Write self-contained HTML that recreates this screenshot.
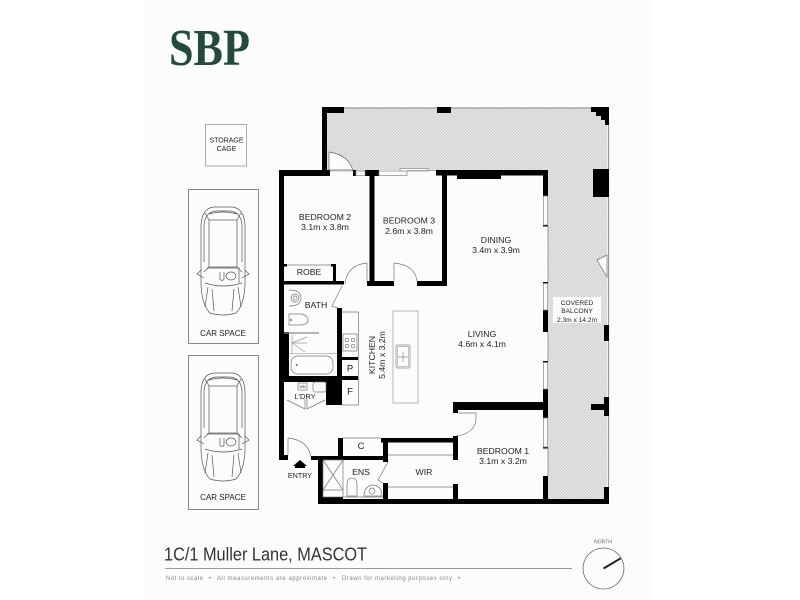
<!DOCTYPE html>
<html lang="en">
<head>
<meta charset="utf-8">
<title>1C/1 Muller Lane, MASCOT</title>
<style>
html,body{margin:0;padding:0;background:#fff}
svg{display:block}
text{font-family:"Liberation Sans",sans-serif;fill:#222;text-anchor:middle}
</style>
</head>
<body>
<svg width="800" height="600" viewBox="0 0 800 600" xmlns="http://www.w3.org/2000/svg">
<defs>
<pattern id="h" width="3" height="3" patternUnits="userSpaceOnUse">
<rect width="3" height="3" fill="#e9e9e7"/>
<rect x="0" y="0" width="1.5" height="1.5" fill="#cfcfcf"/>
<rect x="1.5" y="1.5" width="1.5" height="1.5" fill="#cfcfcf"/>
</pattern>
<g id="car" fill="none" stroke="#555" stroke-width=".7">
<path d="M201 225Q202 208 214 207H232Q244 208 245 225V285Q244 305 236 313Q223 317 210 313Q202 305 201 285Z"/>
<path d="M204 225Q205 212 216 211H230Q241 212 242 225V262M204 225V262"/>
<rect x="209" y="220" width="28" height="47"/>
<path d="M209 220L205 213M237 220L241 213M209 267L204 272M237 267L242 272"/>
<path d="M209 214Q223 210 237 214"/>
<path d="M207 268H239V283"/>
<path d="M205 283Q223 289 242 283"/>
<path d="M208 287L205 307M238 287L241 307"/>
<path d="M201 270L197 274L204 278M245 270L249 274L242 278"/>
<path d="M220 272V279Q222 282 224 279V272"/>
<ellipse cx="231" cy="276" rx="5" ry="4"/>
<path d="M212 289L214 311M234 289L232 311"/>
</g>
</defs>

<rect x="145" y="0" width="509" height="600" fill="#fcfcfa"/>

<!-- logo -->
<text x="209.500" y="65" font-size="52" font-weight="bold" textLength="81" lengthAdjust="spacingAndGlyphs" style="font-family:'Liberation Serif',serif;fill:#234a3f">SBP</text>

<!-- storage -->
<rect x="205.500" y="124.500" width="41" height="41.500" fill="none" stroke="#aaa"/>
<text x="226.500" y="142.500" font-size="7">STORAGE</text>
<text x="226.500" y="151" font-size="7">CAGE</text>

<!-- car spaces -->
<rect x="188.500" y="189.500" width="70" height="154" fill="none" stroke="#888"/>
<use href="#car"/>
<text x="223" y="336" font-size="8">CAR SPACE</text>
<rect x="188.500" y="355.500" width="70" height="154" fill="none" stroke="#888"/>
<use href="#car" transform="translate(0,166)"/>
<text x="223" y="500" font-size="8">CAR SPACE</text>

<!-- balcony hatch -->
<path d="M327 108H607V500H548V170H379V172H327Z" fill="url(#h)"/>
<path d="M344 108H591M608.500 120V490" fill="none" stroke="#999" stroke-width="1.200"/>

<!-- interior -->
<rect x="284" y="176" width="259" height="323" fill="#fcfcfa"/>
<rect x="279" y="176" width="5" height="284" fill="#000"/>

<!-- door into balcony (bed 2) -->
<path d="M329 152V170H353V171Q349 155 329 152Z" fill="#fcfcfa" stroke="#666" stroke-width=".7"/>

<!-- black walls -->
<g fill="#000">
<rect x="322" y="107" width="22" height="6"/>
<rect x="322" y="107" width="5" height="69"/>
<rect x="279" y="170" width="51" height="6"/>
<rect x="353" y="170" width="3" height="6"/>
<rect x="365" y="170" width="14" height="6"/>
<rect x="369.500" y="170" width="5" height="116"/>
<rect x="436" y="170" width="112" height="5.500"/>
<rect x="442" y="170" width="5" height="116"/>
<rect x="457" y="170" width="44" height="9"/>
<rect x="367" y="281" width="27" height="5"/>
<rect x="417" y="281" width="30" height="5"/>
<rect x="437" y="107" width="14" height="6"/>
<path d="M591 107H609V125H605V120H601V116H596V112H591Z"/>
<rect x="593" y="169" width="16" height="28"/>
<rect x="543" y="170" width="5" height="26"/>
<rect x="543" y="310" width="5" height="22"/>
<rect x="543" y="389" width="5" height="29"/>
<rect x="543" y="476" width="5" height="24"/>
<rect x="543" y="225" width="5" height="1.500"/>
<rect x="543" y="282" width="5" height="1.500"/>
<rect x="543" y="361" width="5" height="1.500"/>
<rect x="543" y="447" width="5" height="1.500"/>
<rect x="453" y="402" width="95" height="8"/>
<rect x="453" y="402" width="5" height="11"/>
<rect x="604" y="325" width="5" height="16"/>
<rect x="604" y="397" width="5" height="19"/>
<rect x="591" y="404" width="14" height="6"/>
<rect x="604" y="487" width="5" height="17"/>
<rect x="318" y="499" width="291" height="5"/>
<rect x="453" y="436" width="5" height="24"/>
<rect x="453" y="484" width="5" height="16"/>
<rect x="381" y="438" width="77" height="4.500"/>
<rect x="383" y="438" width="5" height="24"/>
<rect x="383" y="483" width="5" height="17"/>
<rect x="338" y="438" width="5" height="18"/>
<rect x="338" y="456" width="50" height="4"/>
<rect x="311" y="456" width="30" height="4"/>
<rect x="279" y="455" width="9" height="5"/>
<rect x="318" y="456" width="5" height="48"/>
<rect x="323" y="497" width="20" height="7"/>
<rect x="279" y="281" width="65" height="3.500"/>
<rect x="333" y="264" width="3" height="18"/>
<rect x="284" y="264" width="3" height="2.500"/>
<rect x="331" y="264" width="5" height="2.500"/>
<rect x="337" y="308" width="5" height="97"/>
<rect x="279" y="332" width="10" height="48"/>
<rect x="279" y="376" width="48" height="6"/>
<rect x="326" y="376" width="16" height="29"/>
<rect x="342" y="357" width="16" height="3"/>
<rect x="342" y="376" width="16" height="4"/>
</g>

<!-- windows / thin -->
<g fill="#fcfcfa" stroke="#888" stroke-width=".7">
<rect x="356" y="171" width="9" height="4.500"/>
<rect x="379" y="171" width="28" height="4.500"/>
<rect x="400" y="168.500" width="28" height="2.500"/>
<rect x="543.500" y="196" width="4" height="29"/>
<rect x="543.500" y="283.500" width="4" height="26.500"/>
<rect x="543.500" y="362.500" width="4" height="26.500"/>
<rect x="543.500" y="418" width="4" height="29"/>
</g>

<!-- doors and thin lines -->
<g fill="none" stroke="#777" stroke-width=".7">
<path d="M407 170.700H436"/>
<path d="M548 226V282M548 332V361M548 448V476"/>
<path d="M287 265H331"/>
<path d="M367 263V281M367 263Q347 265 345 284"/>
<path d="M394 263V281M394 263Q415 265 417 281"/>
<path d="M288 438V455M288 438Q308 440 311 457"/>
<path d="M458 413H476V420Q474 434 456 436"/>
<path d="M342 286L332 306L338 308"/>
<path d="M388 462L378 480L383 483"/>
<path d="M287 400L305 409V399M325 400L307 409V399"/>
<path d="M388 455H453M388 487H453"/>
<path d="M343 438H381"/>
<path d="M343 497H383"/>
<!-- kitchen -->
<path d="M342 312H358.500V405H342"/>
<rect x="343" y="334" width="14" height="17"/>
<circle cx="347" cy="340" r="1.700"/><circle cx="353" cy="340" r="1.700"/>
<circle cx="347" cy="346" r="1.700"/><circle cx="353" cy="346" r="1.700"/>
<!-- island -->
<rect x="393" y="311" width="25" height="92" stroke="#999"/>
<rect x="396" y="345" width="14" height="23" rx="1.500" stroke="#888"/>
<rect x="397.500" y="346.500" width="11" height="20" rx="1" stroke="#aaa"/>
<path d="M398 357H408M403 352V362" stroke="#888"/>
<!-- bath -->
<circle cx="295" cy="298" r="4"/>
<path d="M289 290Q301 290 301 298Q301 306 289 306"/>
<circle cx="295" cy="298" r="2"/>
<path d="M289 314H302Q308 316 308 320Q308 324 302 325H289ZM289 314V325"/>
<path d="M289 353.300H337" stroke="#999"/>
<path d="M292 335V353M292 343L307 337M292 343H307M292 343L305 352" stroke="#999"/>
<rect x="291" y="356" width="42" height="18" rx="7"/>
<circle cx="296.700" cy="365" r=".7" fill="#444"/>
<circle cx="291" cy="320" r=".7" fill="#444"/>
<!-- laundry -->
<rect x="298" y="383" width="9" height="7"/>
<rect x="313" y="382" width="13" height="10" rx="2"/>
<!-- ensuite -->
<rect x="323" y="460" width="20" height="37"/>
<path d="M323 460L343 490M343 460L323 490M323 490H343"/>
<path d="M347 496V485Q347 478 352 478Q357 478 357 485V496H347Z"/>
<path d="M364 496Q364 486 373 485Q382 486 382 496Z"/>
<circle cx="372" cy="491" r="3"/>
</g>
<path d="M284 333H319" stroke="#888" stroke-width="1.200"/>
<path d="M597 260L607 255V277Z" fill="#fcfcfa" stroke="#777" stroke-width=".7"/>
<path d="M300 460L307 466H293Z" fill="#000"/>
<rect x="295" y="466" width="10" height="2" fill="#000"/>

<!-- labels -->
<rect x="553" y="297" width="48" height="26" fill="#fcfcfa"/>
<text x="577" y="305" font-size="6.600">COVERED</text>
<text x="577" y="313" font-size="6.600">BALCONY</text>
<text x="577" y="322" font-size="6.600">2.3m x 14.2m</text>

<g font-size="8.700">
<text x="325" y="220">BEDROOM 2</text>
<text x="325" y="230">3.1m x 3.8m</text>
<text x="409" y="223.500">BEDROOM 3</text>
<text x="409" y="234">2.6m x 3.8m</text>
<text x="496" y="243">DINING</text>
<text x="496" y="253">3.4m x 3.9m</text>
<text x="482" y="337">LIVING</text>
<text x="482" y="347">4.6m x 4.1m</text>
<text x="503" y="454">BEDROOM 1</text>
<text x="503" y="464">3.1m x 3.2m</text>
<text x="309" y="275">ROBE</text>
<text x="316" y="308">BATH</text>
<text x="361" y="449" font-size="9.500">C</text>
<text x="361" y="475">ENS</text>
<text x="424" y="475">WIR</text>
<text x="350" y="371.500" font-size="9.500">P</text>
<text x="350" y="394.500" font-size="9.500">F</text>
<text transform="translate(375,355) rotate(-90)">KITCHEN</text>
<text transform="translate(385,355) rotate(-90)">5.4m x 3.2m</text>
</g>
<text x="305" y="399" font-size="7.500">L'DRY</text>
<text x="300" y="478" font-size="7.200">ENTRY</text>
<text x="302.500" y="388" font-size="3.500">WM</text>

<!-- footer -->
<text x="164" y="560.500" font-size="18" textLength="203" lengthAdjust="spacingAndGlyphs" style="text-anchor:start;fill:#333">1C/1 Muller Lane, MASCOT</text>
<path d="M165 568.500H572" stroke="#999" stroke-width="1"/>
<g font-size="6" style="fill:#888">
<text x="166" y="580" textLength="37" style="text-anchor:start;fill:#888">Not to scale</text>
<text x="210" y="580" style="fill:#888">•</text>
<text x="217" y="580" textLength="110" style="text-anchor:start;fill:#888">All measurements are approximate</text>
<text x="334" y="580" style="fill:#888">•</text>
<text x="342" y="580" textLength="110" style="text-anchor:start;fill:#888">Drawn for marketing purposes only</text>
<text x="459" y="580" style="fill:#888">•</text>
</g>
<text x="603" y="543.500" font-size="5" style="fill:#666">NORTH</text>
<circle cx="603.500" cy="568.500" r="20.500" fill="none" stroke="#666" stroke-width=".8"/>
<path d="M603.500 568.500L620.700 558.300" stroke="#222" stroke-width="2"/>
</svg>
</body>
</html>
